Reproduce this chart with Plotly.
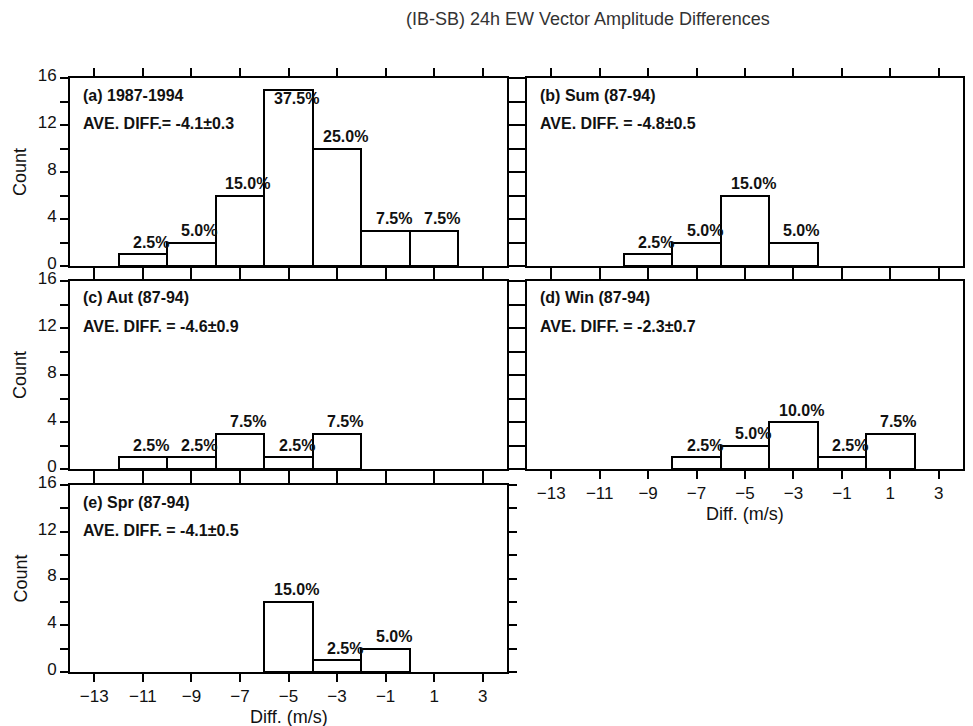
import plotly.graph_objects as go

W, H = 973, 726
PAGE_OFFSET = 8  # default body margin of the html page

# ---------------- data ----------------
bin_width = 2
x_ticks = [-13, -11, -9, -7, -5, -3, -1, 1, 3]
y_ticks = [0, 2, 4, 6, 8, 10, 12, 14, 16]
y_ticklabels = ["0", "", "4", "", "8", "", "12", "", "16"]

a_left = [-12, -10, -8, -6, -4, -2, 0]
a_count = [1, 2, 6, 15, 10, 3, 3]
a_pct = ["2.5%", "5.0%", "15.0%", "37.5%", "25.0%", "7.5%", "7.5%"]

b_left = [-10, -8, -6, -4]
b_count = [1, 2, 6, 2]
b_pct = ["2.5%", "5.0%", "15.0%", "5.0%"]

c_left = [-12, -10, -8, -6, -4]
c_count = [1, 1, 3, 1, 3]
c_pct = ["2.5%", "2.5%", "7.5%", "2.5%", "7.5%"]

d_left = [-8, -6, -4, -2, 0]
d_count = [1, 2, 4, 1, 3]
d_pct = ["2.5%", "5.0%", "10.0%", "2.5%", "7.5%"]

e_left = [-6, -4, -2]
e_count = [6, 1, 2]
e_pct = ["15.0%", "2.5%", "5.0%"]

titles = ["(a) 1987-1994", "(b) Sum (87-94)", "(c) Aut (87-94)",
          "(d) Win (87-94)", "(e) Spr (87-94)"]
ave_texts = ["AVE. DIFF.= -4.1±0.3", "AVE. DIFF. = -4.8±0.5",
             "AVE. DIFF. = -4.6±0.9", "AVE. DIFF. = -2.3±0.7",
             "AVE. DIFF. = -4.1±0.5"]
main_title = "(IB-SB) 24h EW Vector Amplitude Differences"
x_title = "Diff. (m/s)"
y_title = "Count"

# ---------------- layout ----------------
FONT = "Liberation Sans, Arial, sans-serif"
INK = "#111111"

def fx(px):
    return (px - PAGE_OFFSET) / W

def fy(px):
    return 1 - (px - PAGE_OFFSET) / H

cols = {"L": (70, 507), "R": (527, 963)}
rows = [(78, 266), (281, 469), (485, 672)]

panels = [
    dict(left=a_left, count=a_count, pct=a_pct, col="L", row=0, xlab=False, ylab=True),
    dict(left=b_left, count=b_count, pct=b_pct, col="R", row=0, xlab=False, ylab=False),
    dict(left=c_left, count=c_count, pct=c_pct, col="L", row=1, xlab=False, ylab=True),
    dict(left=d_left, count=d_count, pct=d_pct, col="R", row=1, xlab=True, ylab=False),
    dict(left=e_left, count=e_count, pct=e_pct, col="L", row=2, xlab=True, ylab=True),
]

fig = go.Figure()
annotations = []
layout_axes = {}

for i, p in enumerate(panels):
    n = i + 1
    xa = "x" if n == 1 else f"x{n}"
    ya = "y" if n == 1 else f"y{n}"
    x0, x1 = cols[p["col"]]
    top, bot = rows[p["row"]]
    centers = [l + bin_width / 2 for l in p["left"]]
    fig.add_trace(go.Bar(
        x=centers, y=p["count"], width=bin_width,
        marker=dict(color="white", line=dict(color="black", width=2)),
        xaxis=xa, yaxis=ya, showlegend=False, hoverinfo="x+y"))

    common = dict(showline=True, linewidth=2, linecolor="black", mirror="allticks",
                  ticks="outside", ticklen=8, tickwidth=2, tickcolor="black",
                  showgrid=False, zeroline=False, automargin=False,
                  tickfont=dict(family=FONT, size=17, color=INK))
    layout_axes["xaxis" if n == 1 else f"xaxis{n}"] = dict(
        domain=[fx(x0), fx(x1)], range=[-14, 4], tickvals=x_ticks,
        showticklabels=p["xlab"], anchor=ya, **common)
    layout_axes["yaxis" if n == 1 else f"yaxis{n}"] = dict(
        domain=[fy(bot), fy(top)], range=[0, 16], tickvals=y_ticks,
        ticktext=y_ticklabels, showticklabels=p["ylab"], anchor=xa,
        ticklabelshift=-3, **common)

    # percent labels
    for c, cnt, txt in zip(centers, p["count"], p["pct"]):
        annotations.append(dict(
            x=c, y=cnt, xref=xa, yref=ya, text=f"<b>{txt}</b>", showarrow=False,
            xanchor="center", yanchor="middle", xshift=8,
            yshift=12 if cnt < 14 else -9,
            font=dict(family=FONT, size=16, color=INK)))

    # panel labels
    annotations.append(dict(
        x=fx(x0 + 11), y=fy(top + 17), xref="paper", yref="paper",
        text=f"<b>{titles[i]}</b>", showarrow=False, xanchor="left", yanchor="middle",
        font=dict(family=FONT, size=16, color=INK)))
    annotations.append(dict(
        x=fx(x0 + 11), y=fy(top + 45), xref="paper", yref="paper",
        text=f"<b>{ave_texts[i]}</b>", showarrow=False, xanchor="left", yanchor="middle",
        font=dict(family=FONT, size=16, color=INK)))

    if p["ylab"]:
        annotations.append(dict(
            x=fx(20), y=fy((top + bot) / 2), xref="paper", yref="paper",
            text=y_title, showarrow=False, textangle=-90,
            xanchor="center", yanchor="middle",
            font=dict(family=FONT, size=18, color=INK)))
    if p["xlab"]:
        annotations.append(dict(
            x=fx((x0 + x1) / 2), y=fy(bot + 45), xref="paper", yref="paper",
            text=x_title, showarrow=False, xanchor="center", yanchor="middle",
            font=dict(family=FONT, size=18, color=INK)))

annotations.append(dict(
    x=fx(588), y=fy(19), xref="paper", yref="paper", text=main_title,
    showarrow=False, xanchor="center", yanchor="middle",
    font=dict(family=FONT, size=18, color="#333333")))

fig.update_layout(
    width=W, height=H, margin=dict(l=0, r=0, t=0, b=0, autoexpand=False),
    paper_bgcolor="white", plot_bgcolor="white",
    bargap=0, annotations=annotations, **layout_axes)

fig.write_html("out.html")
